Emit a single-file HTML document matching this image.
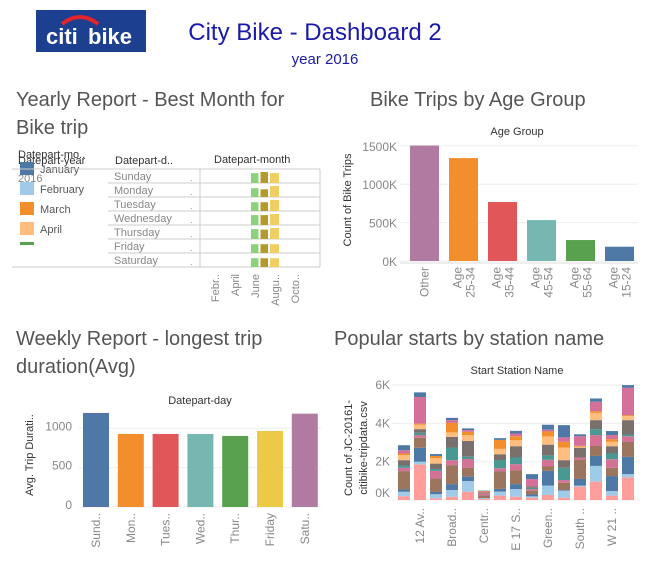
<!DOCTYPE html>
<html><head><meta charset="utf-8">
<style>
body{margin:0;background:#fff;width:649px;height:559px;overflow:hidden;font-family:"Liberation Sans",sans-serif}
svg text{font-family:"Liberation Sans",sans-serif}
</style></head>
<body>
<svg id="s" width="649" height="559" xmlns="http://www.w3.org/2000/svg">
<g>
<rect x="36" y="10" width="110" height="42" fill="#1d3f8f"/>
<path d="M62 24 Q80 10 98 24" stroke="#e3242b" stroke-width="4" fill="none"/>
<text x="46" y="44" font-size="22" font-weight="bold" fill="#fff">citi</text>
<text x="88" y="44" font-size="22" font-weight="bold" fill="#fff">bike</text>
</g>
<text x="315" y="40" font-size="24" fill="#1a1aa8" text-anchor="middle">City Bike - Dashboard 2</text>
<text x="325" y="64" font-size="15" fill="#1a1aa8" text-anchor="middle">year 2016</text>

<text x="16" y="106" font-size="20" fill="#555">Yearly Report - Best Month for</text>
<text x="16" y="134" font-size="20" fill="#555">Bike trip</text>
<text x="370" y="106" font-size="20" fill="#555">Bike Trips  by Age Group</text>
<text x="16" y="345" font-size="20" fill="#555">Weekly Report - longest trip</text>
<text x="16" y="373" font-size="20" fill="#555">duration(Avg)</text>
<text x="334" y="345" font-size="20" fill="#555">Popular starts by station name</text>

<g id="yearly"></g>
<g id="age"></g>
<g id="week"></g>
<g id="stat"></g>
</svg>
<script>
const NS="http://www.w3.org/2000/svg";
function mk(p,t,a,txt){const e=document.createElementNS(NS,t);for(const k in a)e.setAttribute(k,a[k]);if(txt!==undefined)e.textContent=txt;p.appendChild(e);return e;}

// ---------- Age chart data ----------
const ageCats=["Other","Age 25-34","Age 35-44","Age 45-54","Age 55-64","Age 15-24"];
const ageVals=[1503,1340,768,533,273,186];
const ageColors=["#b07aa1","#f28e2b","#e15759","#76b7b2","#59a14f","#4e79a7"];
const ageTicks=[0,500,1000,1500];
// ---------- Weekly data ----------
const dayCats=["Sund..","Mon..","Tues..","Wed..","Thur..","Friday","Satu.."];
const dayVals=[1195,928,928,928,903,966,1186];
const dayColors=["#4e79a7","#f28e2b","#e15759","#76b7b2","#59a14f","#edc948","#b07aa1"];
const dayTicks=[0,500,1000];
// ---------- Stations data (K) ----------
const stLabels=["","12 Av..","","Broad..","","Centr..","","E 17 S..","","Green..","","South ..","","W 21 ..",""];
const stSegColors=["#ff9d9a","#a0cbe8","#4e79a7","#9c755f","#d37295","#499894","#79706e","#ffbe7d","#f28e2b","#d4709a","#4e79a7"];
const stSegs=[
[0.2,0.23,0.12,0.96,0.17,0.12,0.28,0.26,0.09,0.17,0.26],
[1.86,0.14,0.73,0.52,0.14,0.12,0.19,0.24,0.05,1.39,0.24],
[0.09,0.21,0.12,0.7,0.4,0.1,0.28,0.28,0.12,0,0.1],
[0.17,0.35,0.31,0.99,0.26,0.66,0.56,0.23,0.5,0.14,0.12],
[0.43,0.56,0.23,0.47,0.45,0.12,0.82,0.31,0.17,0.09,0.09],
[0.05,0.05,0,0.15,0.1,0,0.05,0,0.04,0.03,0.02],
[0.23,0.21,0.14,0.91,0.17,0.43,0.3,0.28,0.47,0,0.09],
[0.17,0.4,0.26,0.73,0.31,0.35,0.59,0.31,0.21,0.14,0.14],
[0.12,0.07,0.1,0.2,0.08,0.07,0.08,0,0,0.37,0.26],
[0.26,0.49,0.77,0.23,0.35,0.23,0.56,0.43,0.26,0.09,0.26],
[0.12,0.37,0.03,0.38,0.14,0.64,0.4,0.66,0.3,0.23,0.64],
[0.7,0.05,0.35,0.99,0.12,0,0.52,0.05,0.05,0.5,0.1],
[0.96,0.82,0.52,0.52,0.57,0.31,0.47,0.38,0.09,0.49,0.17],
[0.23,0.24,0.78,0.43,0.45,0.3,0.38,0.23,0.14,0.21,0.21],
[1.18,0.17,0.9,0.78,0.3,0.09,0.75,0.21,0.05,1.43,0.14]];
const stTicks=[0,2,4,6];
// ---------- Yearly table data ----------
const weekdays=["Sunday","Monday","Tuesday","Wednesday","Thursday","Friday","Saturday"];
const months=["Febr..","April","June","Augu..","Octo.."];
const legendMonths=["January","February","March","April","May"];
const legendColors=["#4e79a7","#a0cbe8","#f28e2b","#ffbe7d","#59a14f"];
const heatCols=["#8cd17d","#b6992d","#f1ce63"];
const heatVals=[[0.9,1.0,0.9],[0.8,0.7,1.0],[0.8,0.8,1.0],[0.9,0.9,1.0],[0.9,0.85,1.0],[0.8,0.8,0.8],[0.8,0.8,0.8]];

// ===== Age chart =====
(function(){
const g=document.getElementById('age');
const x0=400,x1=638,base=261,pxPer=38.4/500,step=39,bw=29;
const y=v=>base-v*pxPer;
mk(g,'text',{x:517,y:135,'font-size':11,fill:'#333','text-anchor':'middle'},'Age Group');
ageTicks.forEach(t=>{
 const gl=mk(g,'line',{x1:x0,x2:x1,y1:y(t),y2:y(t),stroke:'#eee'});
 
 const tl=mk(g,'text',{x:397,y:y(t)+5,'font-size':12,fill:'#888','text-anchor':'end'},t+'K');
 
});
const yt=mk(g,'text',{transform:'translate(351,200) rotate(-90)','font-size':11,fill:'#333','text-anchor':'middle'},'Count of Bike Trips');

mk(g,'line',{x1:x0,x2:x1,y1:base+2,y2:base+2,stroke:'#ddd'});
ageVals.forEach((v,i)=>{
 const bx=x0+10+i*step;
 const r=mk(g,'rect',{x:bx,y:y(v),width:bw,height:base-y(v),fill:ageColors[i]});
 
 const parts=ageCats[i].split(' ');
 parts.forEach((p,j)=>{
  const cx=bx+bw/2+(parts.length===1?0:(j===0?-6:7));
  const t=mk(g,'text',{transform:`translate(${cx+4},${267}) rotate(-90)`,'font-size':12,fill:'#888','text-anchor':'end'},p);
  
 });
});
})();

// ===== Weekly chart =====
(function(){
const g=document.getElementById('week');
const x0=79,x1=321,base=507,pxPer=78.7/1000,step=34.8,bw=26;
const y=v=>base-v*pxPer;
mk(g,'text',{x:200,y:404,'font-size':11,fill:'#333','text-anchor':'middle'},'Datepart-day');
dayTicks.forEach(t=>{
 mk(g,'line',{x1:x0,x2:x1,y1:y(t),y2:y(t),stroke:'#eee'});
 const tl=mk(g,'text',{x:72,y:y(t)+2,'font-size':12,fill:'#888','text-anchor':'end'},String(t));
 
});
const yt=mk(g,'text',{transform:'translate(33,455) rotate(-90)','font-size':11,fill:'#333','text-anchor':'middle'},'Avg. Trip Durati..');

dayVals.forEach((v,i)=>{
 const bx=x0+4+i*step;
 const r=mk(g,'rect',{x:bx,y:y(v),width:bw,height:base-y(v),fill:dayColors[i]});
 
 const t=mk(g,'text',{transform:`translate(${bx+bw/2+4},${513}) rotate(-90)`,'font-size':12,fill:'#888','text-anchor':'end'},dayCats[i]);
 
});
})();

// ===== Stations chart =====
(function(){
const g=document.getElementById('stat');
const x0=392,x1=640,base=500,pxPer=19.15,step=16,bw=12;
const y=v=>base-v*pxPer;
mk(g,'text',{x:517,y:374,'font-size':11,fill:'#333','text-anchor':'middle'},'Start Station Name');
stTicks.forEach(t=>{
 mk(g,'line',{x1:x0,x2:x1,y1:y(t),y2:y(t),stroke:'#eee'});
 const tl=mk(g,'text',{x:390,y:y(t)+(t===0?-3:4),'font-size':12,fill:'#888','text-anchor':'end'},t+'K');
 
});
const yt=mk(g,'text',{transform:'translate(352,448) rotate(-90)','font-size':11,fill:'#333','text-anchor':'middle'},'Count of JC-20161-');

mk(g,'text',{transform:'translate(367,448) rotate(-90)','font-size':11,fill:'#333','text-anchor':'middle'},'citibike-tripdata.csv');
stSegs.forEach((segs,i)=>{
 const bx=x0+6+i*step;let acc=0;
 segs.forEach((v,k)=>{
  if(v<=0)return;
  const r=mk(g,'rect',{x:bx,y:y(acc+v),width:bw,height:v*pxPer,fill:stSegColors[k]});
  
  acc+=v;
 });
 if(stLabels[i]){
  const t=mk(g,'text',{transform:`translate(${bx+bw/2+4},${508}) rotate(-90)`,'font-size':12,fill:'#888','text-anchor':'end'},stLabels[i]);
  
 }
});
})();

// ===== Yearly table =====
(function(){
const g=document.getElementById('yearly');
mk(g,'text',{x:18,y:158,'font-size':11,fill:'#333'},'Datepart-mo..');
mk(g,'text',{x:18,y:164,'font-size':11,fill:'#333'},'Datepart-year');
mk(g,'text',{x:18,y:182,'font-size':11,fill:'#888'},'2016');
legendMonths.forEach((m,i)=>{
 const ly=162+i*20;
 const sw=mk(g,'rect',{x:20,y:ly,width:14,height:i===4?3:13,fill:legendColors[i]});
 
 if(i<4){const t=mk(g,'text',{x:40,y:ly+11,'font-size':11,fill:'#555'},m);
 }
});
mk(g,'text',{x:115,y:164,'font-size':11,fill:'#333'},'Datepart-d..');
mk(g,'text',{x:214,y:163,'font-size':11,fill:'#333'},'Datepart-month');
const top=169,rh=14;
mk(g,'line',{x1:12,x2:320,y1:top,y2:top,stroke:'#ccc'});
mk(g,'line',{x1:200,x2:200,y1:top,y2:top+7*rh,stroke:'#ccc'});
mk(g,'line',{x1:320,x2:320,y1:top,y2:top+7*rh,stroke:'#ccc'});
weekdays.forEach((d,i)=>{
 const ry=top+i*rh;
 mk(g,'line',{x1:i===6?12:108,x2:320,y1:ry+rh,y2:ry+rh,stroke:'#ccc'});
 const t=mk(g,'text',{x:114,y:ry+11,'font-size':11,fill:'#888'},d);
 
 mk(g,'text',{x:190,y:ry+12,'font-size':9,fill:'#888'},'.');
 heatVals[i].forEach((v,k)=>{
  const h=(rh-3)*v;
  const r=mk(g,'rect',{x:251+k*9.5,y:ry+rh-h,width:k===2?9:7.5,height:h,fill:heatCols[k]});
  
 });
});
months.forEach((m,i)=>{
 const t=mk(g,'text',{transform:`translate(${219+i*20},${274}) rotate(-90)`,'font-size':11,fill:'#888','text-anchor':'end'},m);
 
});
})();
</script>
</body></html>
